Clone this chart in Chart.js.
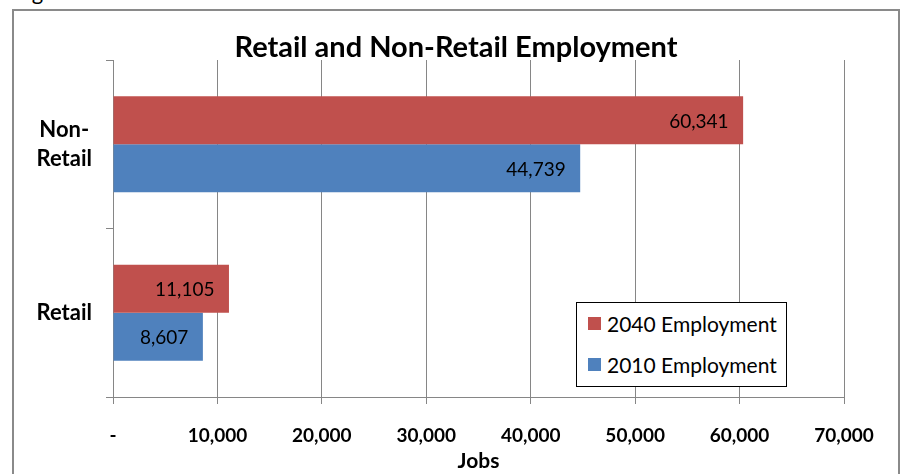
<!DOCTYPE html>
<html>
<head>
<meta charset="utf-8">
<script src="https://cdn.jsdelivr.net/npm/chart.js@4/dist/chart.umd.min.js"></script>
<style>
  body { margin: 0; background: #fff; width: 905px; height: 474px; overflow: hidden; position: relative; font-family: Lato, sans-serif; }
  .caption { position: absolute; left: 14px; top: -19px; font-size: 22px; line-height: 22px; color: #000; }
  .frame { position: absolute; left: 12px; top: 9px; width: 884px; height: 480px; border: 2px solid #8a8a8a; }
  #wrap { position: absolute; left: 14px; top: 11px; width: 884px; height: 463px; }
  .legend { position: absolute; left: 576px; top: 302px; width: 209px; height: 83px; border: 1px solid #000; background: #fff; }
  .legend .row { display: flex; align-items: center; height: 41px; padding-left: 11px; font-size: 21px; color: #000; }
  .legend .sw { width: 13px; height: 13px; margin-right: 6px; }
</style>
</head>
<body>
<div class="caption">Figure</div>
<div class="frame"></div>
<div id="wrap"><canvas id="jobsChart" width="884" height="463"></canvas></div>
<div class="legend" id="legend"></div>
<script>
let categories = [['Non-', 'Retail'], 'Retail']
let seriesNames = ['2040 Employment', '2010 Employment']
let jobs2040 = [60341, 11105]
let jobs2010 = [44739, 8607]
let xMax = 70000
let xStep = 10000
let chartTitle = 'Retail and Non-Retail Employment'

let colors = ['#C0504D', '#4F81BD']
let gridColor = '#868686'
let font = 'Lato'

// number labels drawn just inside the end of each bar
const barLabels = {
	id: 'barLabels',
	afterDatasetsDraw(chart) {
		let ctx = chart.ctx
		ctx.save()
		ctx.font = '19px ' + font
		ctx.fillStyle = '#000'
		ctx.textAlign = 'right'
		ctx.textBaseline = 'middle'
		chart.data.datasets.forEach((ds, i) => {
			chart.getDatasetMeta(i).data.forEach((bar, j) => {
				ctx.fillText(ds.data[j].toLocaleString('en-US'), bar.x - 14.5, bar.y + 1.5)
			})
		})
		ctx.restore()
	}
}

// title centred on the whole canvas, not on the padded layout box
const centredTitle = {
	id: 'centredTitle',
	afterDraw(chart) {
		let ctx = chart.ctx
		ctx.save()
		ctx.font = 'bold 29px ' + font
		ctx.fillStyle = '#000'
		ctx.textAlign = 'center'
		ctx.textBaseline = 'middle'
		ctx.fillText(chartTitle, chart.width / 2, 37)
		ctx.restore()
	}
}

new Chart(document.getElementById('jobsChart'), {
	type: 'bar',
	data: {
		labels: categories,
		datasets: [{
			label: seriesNames[0],
			data: jobs2040,
			backgroundColor: colors[0]
		}, {
			label: seriesNames[1],
			data: jobs2010,
			backgroundColor: colors[1]
		}]
	},
	options: {
		indexAxis: 'y',
		responsive: false,
		animation: false,
		categoryPercentage: 0.57,
		barPercentage: 1,
		layout: { padding: { left: 0, right: 54, top: 49, bottom: 0 } },
		plugins: {
			legend: { display: false },
			tooltip: { enabled: false },
			title: { display: false }
		},
		scales: {
			x: {
				min: 0,
				max: xMax,
				afterFit: s => { s.height = 77 },
				ticks: {
					stepSize: xStep,
					color: '#000',
					padding: 20,
					maxRotation: 0,
					font: { family: font, size: 19, weight: 'bold' },
					callback: v => v === 0 ? '-' : v.toLocaleString('en-US')
				},
				grid: { color: gridColor, tickLength: 7, tickColor: gridColor },
				border: { color: gridColor },
				title: {
					display: true,
					text: 'Jobs',
					color: '#000',
					font: { family: font, size: 21, weight: 'bold', lineHeight: 1.1 },
					padding: { top: 0, bottom: 1 }
				}
			},
			y: {
				afterFit: s => { s.width = 99 },
				ticks: {
					color: '#000',
					padding: 14,
					crossAlign: 'center',
					font: { family: font, size: 22, weight: 'bold', lineHeight: 1.3 }
				},
				grid: { offset: true, drawOnChartArea: false, tickLength: 7, color: gridColor },
				border: { color: gridColor }
			}
		}
	},
	plugins: [barLabels, centredTitle]
})

// boxed legend, listed in dataset order
let legend = document.getElementById('legend')
for(let i = 0; i < seriesNames.length; ++i) {
	let row = document.createElement('div')
	row.className = 'row'
	row.innerHTML = '<span class="sw" style="background:' + colors[i] + '"></span>' + seriesNames[i]
	legend.appendChild(row)
}
</script>
</body>
</html>
